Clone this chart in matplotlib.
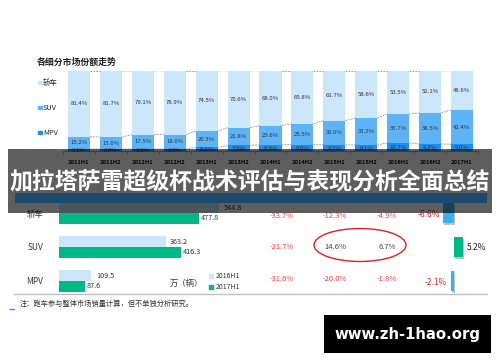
import numpy as np
import matplotlib
matplotlib.use('Agg')
import matplotlib.pyplot as plt
from matplotlib.patches import Rectangle, Ellipse

plt.rcParams['font.family'] = ['Noto Sans CJK SC', 'DejaVu Sans']

# share trend (%), top chart
periods = ['2011H1', '2011H2', '2012H1', '2012H2', '2013H1', '2013H2', '2014H1',
           '2014H2', '2015H1', '2015H2', '2016H1', '2016H2', '2017H1']
sedan_share = [81.4, 81.7, 79.1, 78.9, 74.5, 70.6, 68.0, 65.8, 61.7, 58.6, 53.5, 52.1, 48.6]
suv_share = [15.2, 15.0, 17.5, 18.0, 20.3, 21.8, 23.6, 25.5, 30.0, 33.2, 35.7, 38.5, 42.4]
mpv_share = [3.1, 3.0, 3.2, 3.0, 5.1, 7.6, 8.3, 8.6, 8.2, 8.1, 10.7, 9.3, 9.0]

# sales (万辆), lower chart
cats = ['轿车', 'SUV', 'MPV']
sales_2016 = [544.8, 363.2, 109.5]
sales_2017 = [477.8, 416.3, 87.6]
growth_cols = [[-33.7, -21.7, -31.6],
               [-12.3, 14.6, -20.0],
               [-4.9, 6.7, -1.8]]
share_change = [-6.6, 5.2, -2.1]

c_sedan = '#cce6fb'
c_suv = '#5db3f6'
c_mpv = '#1a8ff0'
c_green = '#00b884'

fig = plt.figure(figsize=(5, 3.62), dpi=100)

def px_axes(x0, y0, x1, y1):
    return fig.add_axes([x0/500, 1-y1/362, (x1-x0)/500, (y1-y0)/362])

#### top stacked chart
ax1 = px_axes(63, 70.7, 478, 151.5)
x = np.arange(len(periods))
w = 0.69
mpv = np.array(mpv_share)
suv = np.array(suv_share)
sed = np.array(sedan_share)
ax1.bar(x, mpv, w, color=c_mpv)
ax1.bar(x, suv, w, bottom=mpv, color=c_suv)
ax1.bar(x, sed, w, bottom=mpv+suv, color=c_sedan)
for i in x:
    ax1.text(i, mpv[i]/2, '%.1f%%' % mpv[i], ha='center', va='center', fontsize=4.3, color='#333')
    ax1.text(i, mpv[i]+suv[i]/2, '%.1f%%' % suv[i], ha='center', va='center', fontsize=4.3, color='#333')
    ax1.text(i, mpv[i]+suv[i]+sed[i]/2, '%.1f%%' % sed[i], ha='center', va='center', fontsize=4.3, color='#333')
for lev in [mpv, mpv+suv, mpv+suv+sed]:
    for i in range(len(x)-1):
        ax1.plot([i+w/2, i+1-w/2], [lev[i], lev[i+1]], ls=(0, (2, 1.5)), color='#888', lw=0.6)
ax1.set_xlim(-0.5, len(x)-0.5)
ax1.set_ylim(0, 100)
for s in ['left', 'right', 'top']:
    ax1.spines[s].set_visible(False)
ax1.spines['bottom'].set_color('#aaa')
ax1.spines['bottom'].set_linewidth(0.8)
ax1.set_yticks([])
ax1.set_xticks(x)
ax1.set_xticklabels(periods, fontsize=4.2, fontweight='bold', color='#111')
ax1.tick_params(axis='x', length=0, pad=6)
ax1.set_xticks(np.arange(-0.5, len(x), 1), minor=True)
ax1.tick_params(axis='x', which='minor', length=2.5, color='#aaa', width=0.6)
ax1.patch.set_alpha(0)

#### lower horizontal bars
ax2 = px_axes(59, 196, 235, 298)
y = np.arange(len(cats))
h = 0.31
ax2.barh(y-h/2, sales_2016, h, color=c_sedan)
ax2.barh(y+h/2, sales_2017, h, color=c_green)
for i in y:
    ax2.text(sales_2016[i]+16, i-h/2, '%.1f' % sales_2016[i], va='center', fontsize=5.2, color='#333')
    ax2.text(sales_2017[i]+5, i+h/2, '%.1f' % sales_2017[i], va='center', fontsize=5.2, color='#333')
ax2.set_xlim(0, 600)
ax2.set_ylim(2.5, -0.5)
ax2.set_yticks(y)
ax2.set_yticklabels(cats, fontsize=6, color='#333')
ax2.tick_params(axis='y', length=0, pad=11.5)
ax2.set_xticks([])
for s in ax2.spines.values():
    s.set_visible(False)
ax2.patch.set_alpha(0)

#### share change bars
ax3 = px_axes(434, 196, 474, 298)
cols = [c_green if v > 0 else '#38b0f5' for v in share_change]
ax3.barh(y+0.05, share_change, 0.6, left=0.7, color='#9a9a9a', alpha=0.6)
ax3.barh(y, share_change, 0.6, color=cols)
for i in y:
    v = share_change[i]
    if v < 0:
        ax3.text(v-2.0, i+0.05, '%.1f%%' % v, ha='right', va='center', fontsize=6, color='#e8262b')
    else:
        ax3.text(v+2.2, i, '%.1f%%' % v, ha='left', va='center', fontsize=6, color='#222')
ax3.set_xlim(-12, 12)
ax3.set_ylim(2.5, -0.5)
ax3.axis('off')

#### page annotations + banner overlay
ax0 = fig.add_axes([0, 0, 1, 1])
ax0.set_xlim(0, 500)
ax0.set_ylim(362, 0)
ax0.axis('off')

ax0.text(37, 62, '各细分市场份额走势', fontsize=6.4, fontweight='bold', color='#222', va='center')
for name, col, yy in [('轿车', c_sedan, 82.7), ('SUV', c_suv, 107.7), ('MPV', c_mpv, 132.7)]:
    ax0.add_patch(Rectangle((38, yy-1.8), 3.6, 3.6, color=col))
    ax0.text(43, yy, name, fontsize=5.3, color='#222', va='center')

row_y = [216, 247, 279]
col_x = [282, 335, 387]
for cx, vals in zip(col_x, growth_cols):
    for yy, v in zip(row_y, vals):
        ax0.text(cx, yy, '%.1f%%' % v, ha='center', va='center', fontsize=5.5,
                 color='#ff3b3b' if v < 0 else '#444')
ax0.add_patch(Ellipse((360, 245), 92, 33, fill=False, edgecolor='#e02020', lw=1))

ax0.plot([14, 487], [294, 294], color='#c0c0c0', lw=1)
ax0.add_patch(Rectangle((209, 274.2), 3.6, 3.6, color=c_sedan))
ax0.add_patch(Rectangle((209, 285.2), 3.6, 3.6, color=c_green))
ax0.text(216, 276, '2016H1', fontsize=5, color='#333', va='center')
ax0.text(216, 287, '2017H1', fontsize=5, color='#333', va='center')
ax0.text(170, 283, '万（辆）', fontsize=6, color='#333', va='center')
ax0.text(20, 304, '注：跑车参与整体市场销量计算，但不单独分析研究。', fontsize=5.2, color='#333', va='center')
ax0.plot([10, 14], [308.5, 308.5], color='#2a8fd8', lw=1)

ax0.add_patch(Rectangle((8, 149), 484, 64, color='black', alpha=0.63, lw=0, zorder=5))
ax0.add_patch(Rectangle((15, 193), 472, 10, color='#1b4a6e', lw=0, zorder=6))
ax0.text(250, 183, '加拉塔萨雷超级杯战术评估与表现分析全面总结', fontsize=16.5, fontweight='bold',
         color='white', ha='center', va='center', zorder=7)

ax0.add_patch(Rectangle((324, 315), 167, 38, color='black', lw=0, zorder=5))
ax0.text(407, 335, 'www.zh-1hao.org', fontsize=10.7, fontweight='bold', color='white',
         ha='center', va='center', family='DejaVu Sans', zorder=6)

plt.savefig('out.png', dpi=100)
